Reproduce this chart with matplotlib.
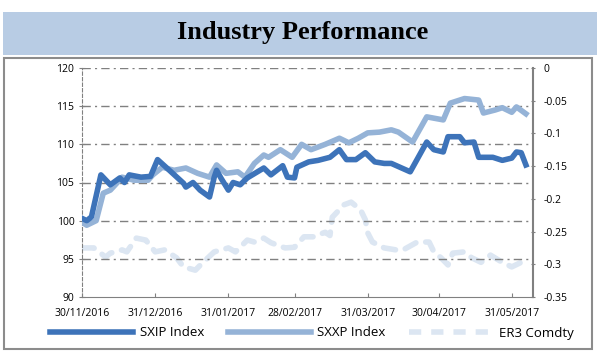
import matplotlib
matplotlib.use('Agg')
import matplotlib.pyplot as plt
import matplotlib.dates as mdates
from matplotlib.patches import Rectangle
from matplotlib.lines import Line2D
import pandas as pd

# values
sxip_dates = ['2016-11-30', '2016-12-02', '2016-12-04', '2016-12-08', '2016-12-12', '2016-12-16',
              '2016-12-18', '2016-12-20', '2016-12-25', '2016-12-29', '2017-01-01', '2017-01-06',
              '2017-01-12', '2017-01-13', '2017-01-16', '2017-01-19', '2017-01-23', '2017-01-25',
              '2017-01-26', '2017-01-28', '2017-01-31', '2017-02-02', '2017-02-05', '2017-02-08',
              '2017-02-15', '2017-02-18', '2017-02-23', '2017-02-25', '2017-02-28', '2017-03-01',
              '2017-03-06', '2017-03-10', '2017-03-15', '2017-03-19', '2017-03-22', '2017-03-26',
              '2017-03-30', '2017-04-03', '2017-04-07', '2017-04-10', '2017-04-18', '2017-04-25',
              '2017-04-28', '2017-05-02', '2017-05-04', '2017-05-09', '2017-05-11', '2017-05-15',
              '2017-05-17', '2017-05-23', '2017-05-27', '2017-05-31', '2017-06-02', '2017-06-04',
              '2017-06-06']
sxip = [100.3, 100.0, 100.5, 106.0, 104.7, 105.6, 105.0, 106.0, 105.7, 105.8, 108.0, 106.6,
        104.9, 104.4, 105.0, 104.0, 103.1, 105.7, 106.6, 105.5, 104.0, 105.0, 104.7, 105.6,
        106.9, 106.0, 107.2, 105.7, 105.6, 107.0, 107.7, 107.9, 108.3, 109.3, 108.0, 108.0,
        108.9, 107.7, 107.5, 107.5, 106.4, 110.3, 109.3, 109.0, 111.0, 111.0, 110.2, 110.3,
        108.3, 108.3, 107.9, 108.2, 109.0, 108.9, 107.3]

sxxp_dates = ['2016-11-30', '2016-12-02', '2016-12-06', '2016-12-09', '2016-12-12', '2016-12-15',
              '2016-12-17', '2016-12-22', '2016-12-28', '2016-12-30', '2017-01-03', '2017-01-08',
              '2017-01-13', '2017-01-18', '2017-01-23', '2017-01-26', '2017-01-30', '2017-02-04',
              '2017-02-07', '2017-02-11', '2017-02-15', '2017-02-17', '2017-02-22', '2017-02-27',
              '2017-03-03', '2017-03-07', '2017-03-13', '2017-03-19', '2017-03-23', '2017-03-27',
              '2017-03-31', '2017-04-05', '2017-04-10', '2017-04-13', '2017-04-19', '2017-04-25',
              '2017-05-02', '2017-05-05', '2017-05-11', '2017-05-17', '2017-05-19', '2017-05-24',
              '2017-05-27', '2017-05-31', '2017-06-02', '2017-06-06']
sxxp = [99.8, 99.4, 100.0, 103.6, 104.0, 105.0, 105.7, 105.3, 105.3, 106.0, 107.0, 106.6,
        106.9, 106.2, 105.7, 107.3, 106.2, 106.4, 105.7, 107.5, 108.6, 108.3, 109.3, 108.3,
        110.0, 109.3, 110.0, 110.8, 110.2, 110.8, 111.5, 111.6, 111.9, 111.6, 110.3, 113.6,
        113.2, 115.4, 116.0, 115.8, 114.1, 114.5, 114.8, 114.2, 114.9, 114.0]

er3_dates = ['2016-11-30', '2016-12-05', '2016-12-10', '2016-12-12', '2016-12-17', '2016-12-19',
             '2016-12-23', '2016-12-27', '2016-12-31', '2017-01-04', '2017-01-09', '2017-01-12',
             '2017-01-17', '2017-01-20', '2017-01-25', '2017-01-31', '2017-02-03', '2017-02-08',
             '2017-02-11', '2017-02-15', '2017-02-18', '2017-02-24', '2017-02-28', '2017-03-04',
             '2017-03-08', '2017-03-13', '2017-03-15', '2017-03-16', '2017-03-21', '2017-03-24',
             '2017-03-28', '2017-03-30', '2017-03-31', '2017-04-02', '2017-04-07', '2017-04-12',
             '2017-04-15', '2017-04-21', '2017-04-26', '2017-04-28', '2017-05-01', '2017-05-04',
             '2017-05-06', '2017-05-11', '2017-05-14', '2017-05-18', '2017-05-22', '2017-05-27',
             '2017-05-31', '2017-06-04', '2017-06-07']
er3 = [-0.275, -0.275, -0.289, -0.283, -0.278, -0.281, -0.260, -0.263, -0.281, -0.278, -0.290,
       -0.304, -0.309, -0.298, -0.281, -0.275, -0.281, -0.263, -0.266, -0.260, -0.267, -0.275,
       -0.274, -0.258, -0.258, -0.251, -0.256, -0.228, -0.209, -0.205, -0.217, -0.232, -0.252,
       -0.266, -0.275, -0.278, -0.278, -0.266, -0.266, -0.281, -0.290, -0.301, -0.283, -0.281,
       -0.290, -0.297, -0.286, -0.297, -0.304, -0.297, -0.298]

xticks = ['2016-11-30', '2016-12-31', '2017-01-31', '2017-02-28', '2017-03-31', '2017-04-30', '2017-05-31']

c_sxip = '#3D73B9'
c_sxxp = '#95B3D7'
c_er3 = '#DCE6F2'
grid_c = '#808080'
LW = 4.0

plt.rcParams['font.family'] = ['Open Sans', 'DejaVu Sans']

fig = plt.figure(figsize=(6, 3.6), dpi=100)
W, H = 600, 360

# title band and frame box
fig.patches.append(Rectangle((3 / W, 1 - 55 / H), 594 / W, 43 / H, transform=fig.transFigure,
                             facecolor='#B8CCE4', edgecolor='none'))
fig.text(0.505, 1 - 33 / H, 'Industry Performance', ha='center', va='center',
         fontsize=19, fontweight='bold', family='Liberation Serif')
fig.patches.append(Rectangle((4 / W, 1 - 349 / H), 588 / W, 291 / H, transform=fig.transFigure,
                             facecolor='none', edgecolor='#8C8C8C', lw=1.5))

ax = fig.add_axes([82 / W, 1 - 297 / H, (533 - 82) / W, (297 - 68) / H])
ax2 = ax.twinx()

ax.plot(pd.to_datetime(sxxp_dates), sxxp, color=c_sxxp, lw=LW, solid_joinstyle='round', zorder=3)
ax.plot(pd.to_datetime(sxip_dates), sxip, color=c_sxip, lw=LW, solid_joinstyle='round', zorder=4)
ax2.plot(pd.to_datetime(er3_dates), er3, color=c_er3, lw=LW, dashes=(2.2, 1.8),
         dash_capstyle='round', zorder=2)
ax.set_zorder(ax2.get_zorder() + 1)
ax.patch.set_visible(False)

ax.set_xlim(pd.Timestamp('2016-11-30'), pd.Timestamp('2017-06-09'))
ax.set_ylim(90, 120)
ax.set_yticks(range(90, 121, 5))
ax2.set_ylim(-0.35, 0)
ax2.set_yticks([-0.35, -0.3, -0.25, -0.2, -0.15, -0.1, -0.05, 0])
ax2.set_yticklabels(['-0.35', '-0.3', '-0.25', '-0.2', '-0.15', '-0.1', '-0.05', '0'])

ax.set_xticks(pd.to_datetime(xticks))
ax.xaxis.set_major_formatter(mdates.DateFormatter('%d/%m/%Y'))

for y in range(95, 121, 5):
    ax.axhline(y, color=grid_c, lw=1.0, dashes=(6, 3, 1.5, 3), zorder=1)

for a in (ax, ax2):
    for s in a.spines.values():
        s.set_visible(False)
ax.spines['left'].set_visible(True)
ax.spines['left'].set_color(grid_c)
ax.spines['left'].set_linestyle((0, (3, 2)))
ax.spines['bottom'].set_visible(True)
ax.spines['bottom'].set_color(grid_c)
ax2.spines['right'].set_visible(True)
ax2.spines['right'].set_color(grid_c)
ax2.spines['right'].set_linewidth(1.5)

ax.tick_params(axis='y', labelsize=7.5, color=grid_c, direction='inout', length=5, pad=3)
ax.tick_params(axis='x', labelsize=7.5, color=grid_c, direction='in', length=3, pad=8)
ax2.tick_params(axis='y', labelsize=7.5, length=3, color=grid_c, direction='inout', pad=6)

handles = [Line2D([], [], color=c_sxip, lw=LW),
           Line2D([], [], color=c_sxxp, lw=LW),
           Line2D([], [], color=c_er3, lw=LW, dashes=(2.2, 1.8))]
fig.legend(handles, ['SXIP Index', 'SXXP Index', 'ER3 Comdty'], loc='center',
           bbox_to_anchor=(0.52, 1 - 333 / H), ncol=3, frameon=False, fontsize=9.5,
           handlelength=6.3, columnspacing=1.8, handletextpad=0.5)

fig.savefig('out.png', dpi=100)
